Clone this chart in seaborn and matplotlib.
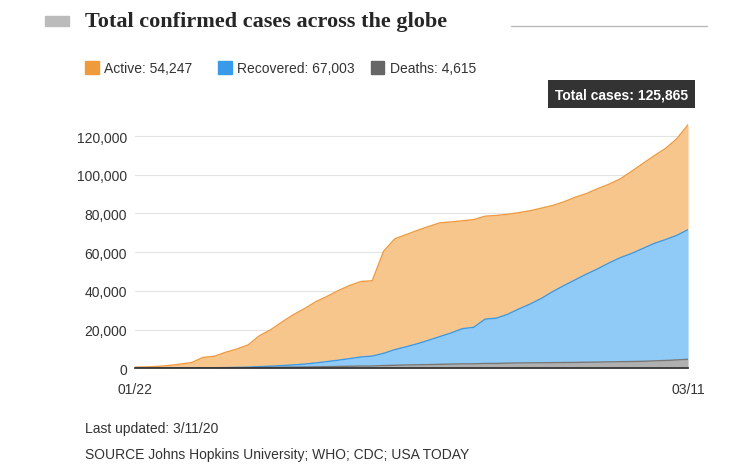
import matplotlib.pyplot as plt
import seaborn as sns
import pandas as pd
import matplotlib.ticker as ticker
from matplotlib.patches import Rectangle

sns.set_theme(style="white")
plt.rcParams['font.family'] = ['Liberation Sans', 'DejaVu Sans']

dates = pd.date_range("2020-01-22", "2020-03-11")
total = [555, 654, 941, 1434, 2118, 2927, 5578, 6166, 8234, 9927, 12038, 16787, 19881, 23892,
         27635, 30794, 34391, 37120, 40150, 42762, 44802, 45221, 60368, 66885, 69030, 71224,
         73258, 75136, 75639, 76197, 76819, 78572, 78958, 79561, 80406, 81388, 82746, 84112,
         86011, 88369, 90306, 92840, 95120, 97886, 101801, 105847, 109821, 113590, 118620, 125865]
deaths = [17, 18, 26, 42, 56, 82, 131, 133, 171, 213, 259, 362, 426, 492, 564, 634, 719, 806,
          906, 1013, 1113, 1118, 1371, 1523, 1666, 1770, 1868, 2007, 2122, 2247, 2251, 2458,
          2469, 2629, 2708, 2770, 2814, 2872, 2941, 2996, 3085, 3160, 3254, 3348, 3460, 3558,
          3802, 3988, 4262, 4615]
recovered = [28, 30, 36, 39, 52, 61, 107, 126, 143, 222, 284, 472, 623, 852, 1124, 1487, 2011,
             2616, 3244, 3946, 4683, 5150, 6295, 8058, 9395, 10865, 12583, 14352, 16121, 18177,
             18890, 22886, 23394, 25227, 27905, 30384, 33277, 36711, 39782, 42716, 45602, 48228,
             51170, 53796, 55865, 58358, 60694, 62494, 64404, 67003]

df = pd.DataFrame({"date": dates, "total": total, "deaths": deaths, "recovered": recovered})
df["dr"] = df["deaths"] + df["recovered"]
x = range(len(df))

fig = plt.figure(figsize=(7.52, 4.77), dpi=100)
ax = fig.add_axes([0.18, 0.226, 0.735, 0.511])

ax.fill_between(x, df["dr"], df["total"], color="#f7c68c", lw=0)
ax.fill_between(x, df["deaths"], df["dr"], color="#8fcbf6", lw=0)
ax.fill_between(x, 0, df["deaths"], color="#b0b0b0", lw=0)
sns.lineplot(x=list(x), y=df["total"], ax=ax, color="#f09a3e", lw=1)
sns.lineplot(x=list(x), y=df["dr"], ax=ax, color="#3a9aea", lw=1)
sns.lineplot(x=list(x), y=df["deaths"], ax=ax, color="#777777", lw=1)

ax.set_xlim(0, len(df) - 1)
ax.set_ylim(0, 126000)
ax.set_yticks([0, 20000, 40000, 60000, 80000, 100000, 120000])
ax.yaxis.set_major_formatter(ticker.FuncFormatter(lambda v, p: f"{v:,.0f}"))
ax.set_xticks([0, len(df) - 1])
ax.set_xticklabels(["01/22", "03/11"])
ax.grid(axis="y", color="#e3e3e3", lw=0.8)
ax.set_axisbelow(True)
for s in ["top", "right", "left"]:
    ax.spines[s].set_visible(False)
ax.spines["bottom"].set_color("#333333")
ax.tick_params(axis="both", labelsize=10, colors="#333333", length=0, pad=6)
ax.tick_params(axis="x", length=4, color="#333333")
ax.set_xlabel("")
ax.set_ylabel("")

# title
fig.patches.append(Rectangle((0.06, 0.943), 0.032, 0.022, transform=fig.transFigure,
                             color="#bbbbbb"))
fig.text(0.113, 0.953, "Total confirmed cases across the globe", fontsize=16,
         fontweight="bold", family=["Liberation Serif", "DejaVu Serif"], va="center")
fig.add_artist(plt.Line2D([0.68, 0.94], [0.943, 0.943], color="#bbbbbb", lw=1))

# legend
items = [("#f09a3e", "Active: 54,247", 0.113), ("#3a9aea", "Recovered: 67,003", 0.29),
         ("#666666", "Deaths: 4,615", 0.493)]
for c, t, xp in items:
    fig.patches.append(Rectangle((xp, 0.842), 0.018, 0.028, transform=fig.transFigure, color=c))
    fig.text(xp + 0.025, 0.856, t, fontsize=10, va="center", color="#333333")

# tooltip
ax.annotate(f"Total cases: {total[-1]:,}", xy=(len(df) - 1, total[-1]), xytext=(0, 22),
            textcoords="offset points", ha="right", va="center", fontsize=10,
            fontweight="bold", color="white",
            bbox=dict(boxstyle="square,pad=0.5", fc="#333333", ec="none"))

fig.text(0.113, 0.093, "Last updated: 3/11/20", fontsize=10, color="#333333")
fig.text(0.113, 0.038, "SOURCE Johns Hopkins University; WHO; CDC; USA TODAY", fontsize=10,
         color="#333333")

fig.savefig("out.png", dpi=100)
